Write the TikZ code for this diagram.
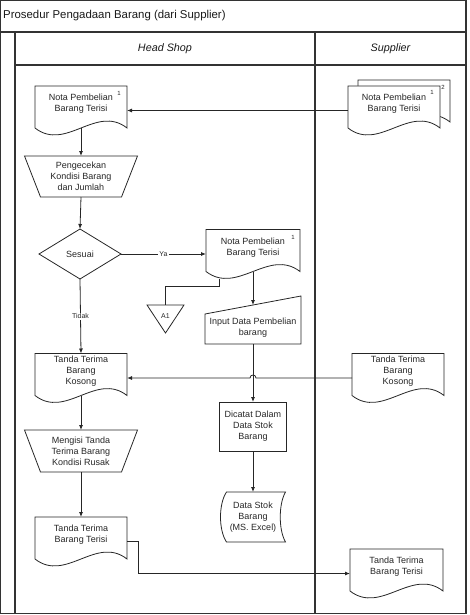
\documentclass[tikz,border=0pt]{standalone}
\usepackage{fontspec}
\setmainfont{Liberation Sans}
\usetikzlibrary{arrows.meta,calc}
\tikzset{
 shp/.style={draw=black!85, line width=0.8pt},
 lane/.style={draw=black!80, line width=1.2pt},
 arr/.style={draw=black!85, line width=0.8pt, -{Latex[length=5pt,width=4pt]}},
 ln/.style={draw=black!85, line width=0.8pt},
 box/.style={rectangle, inner sep=0pt, outer sep=0pt},
 txt/.style={inner sep=0pt, align=center, font=\fontsize{9}{11}\selectfont, text=black!85},
 supnum/.style={inner sep=0pt, font=\fontsize{6}{7}\selectfont, text=black!85},
 lbl/.style={inner sep=1pt, fill=white, font=\fontsize{7}{8}\selectfont, text=black!85},
 hdr/.style={inner sep=0pt, font=\fontsize{10.8}{12}\selectfont\itshape, text=black!90},
}
\newcommand\docshape[2]{%
 \draw[shp, fill=white] (#1.north west) -- (#1.north east) -- ($(#1.south east)+(0,-7)$)
   .. controls +(-#2/3,-24) and +(#2/3,24) .. ($(#1.south west)+(0,-7)$) -- cycle;}
\newcommand\docnode[5]{%
 \node[box, minimum width=#4pt, minimum height=49pt] (#1) at (#2,#3) {};
 \docshape{#1}{#4}
 \node[txt] (#1-t) at ($(#1.center)+(0,-6.5)$) {#5};}
\begin{document}
\begin{tikzpicture}[x=1pt,y=-1pt]
\useasboundingbox (0,0) rectangle (469,615);
% frame and lanes
\draw[lane] (0.6,0.6) rectangle (466,613.5);
\draw[lane] (0.6,32) -- (466,32);
\draw[lane] (15,32) -- (15,613.5);
\draw[lane] (15,65) -- (466,65);
\draw[lane] (315,32) -- (315,613.5);
\node[anchor=west, inner sep=0pt, font=\fontsize{11.4}{13}\selectfont, text=black!90] (title) at (3,16) {Prosedur Pengadaan Barang (dari Supplier)};
\node[hdr] (h1) at (165,49) {Head Shop};
\node[hdr] (h2) at (390.5,49) {Supplier};

% documents
\docnode{nota1}{81}{110.5}{92}{Nota Pembelian\\Barang Terisi}
\node[supnum] (nota1-n) at ($(nota1.north east)+(-8,7)$) {1};

\node[box, minimum width=92pt, minimum height=49pt] (notaSb) at (404,104.5) {};
\docshape{notaSb}{92}
\node[supnum] (notaSb-n) at ($(notaSb.north east)+(-7,7)$) {2};
\docnode{notaS}{394}{110.5}{92}{Nota Pembelian\\Barang Terisi}
\node[supnum] (notaS-n) at ($(notaS.north east)+(-8,6)$) {1};

\docnode{nota2}{253}{254}{94}{Nota Pembelian\\Barang Terisi}
\node[supnum] (nota2-n) at ($(nota2.north east)+(-7,8)$) {1};

\docnode{ttk1}{81}{378}{92}{Tanda Terima\\Barang\\Kosong}
\docnode{ttk2}{398}{378}{92}{Tanda Terima\\Barang\\Kosong}
\docnode{tti1}{81}{541.5}{92}{Tanda Terima\\Barang Terisi}
\docnode{tti2}{396.5}{573.5}{93}{Tanda Terima\\Barang Terisi}

% trapezoids
\node[box, txt, minimum width=113pt, minimum height=41pt] (trap1) at (81,176.5) {Pengecekan\\Kondisi Barang\\dan Jumlah};
\draw[shp] (trap1.north west) -- (trap1.north east) -- ($(trap1.south east)+(-16,0)$) -- ($(trap1.south west)+(16,0)$) -- cycle;
\node[box, txt, minimum width=113pt, minimum height=42pt] (trap2) at (81,451) {Mengisi Tanda\\Terima Barang\\Kondisi Rusak};
\draw[shp] (trap2.north west) -- (trap2.north east) -- ($(trap2.south east)+(-16,0)$) -- ($(trap2.south west)+(16,0)$) -- cycle;

% decision
\node[box, txt, minimum width=82pt, minimum height=50pt] (dec) at (80,254) {Sesuai};
\draw[shp] (dec.north) -- (dec.east) -- (dec.south) -- (dec.west) -- cycle;

% off-page connector
\node[box, minimum width=37pt, minimum height=28pt] (a1) at (165.5,319) {};
\draw[shp] (a1.north west) -- (a1.north east) -- (a1.south) -- cycle;
\node[inner sep=0pt, font=\fontsize{7}{8}\selectfont, text=black!85] (a1-t) at (165.5,316) {A1};

% manual input
\node[box, minimum width=96pt, minimum height=48pt] (input) at (253,320) {};
\draw[shp] (input.south west) -- (input.south east) -- (input.north east) -- ($(input.north west)+(0,18)$) -- cycle;
\node[txt] (input-t) at (253,328) {Input Data Pembelian\\barang};

% process
\node[box, txt, draw=black!85, line width=0.8pt, minimum width=67pt, minimum height=49pt] (dicatat) at (253,426.5) {Dicatat Dalam\\Data Stok\\Barang};

% stored data
\node[box, txt, minimum width=65pt, minimum height=50pt] (ds) at (253,517) {Data Stok\\Barang\\(MS. Excel)};
\draw[shp] (ds.north east) .. controls +(-7,12) and +(-7,-12) .. (ds.south east)
  -- ($(ds.south west)+(6,0)$) .. controls +(-8,-12) and +(-8,12) .. ($(ds.north west)+(6,0)$) -- cycle;

% connectors
\draw[arr] (notaS.west) -- (nota1.east);
\draw[arr] ($(nota1.south)+(0,-7)$) -- (trap1.north);
\draw[arr] (trap1.south) -- (dec.north);
\draw[arr] (dec.east) -- node[lbl] (ya) {Ya} (nota2.west);
\draw[arr] (dec.south) -- node[lbl] (tidak) {Tidak} (ttk1.north);
\draw[ln] ($(nota2.south west)+(13,0)$) -- ++(0,8) -| (a1.north);
\draw[arr] ($(nota2.south)+(0,-7)$) -- ($(input.north)+(0,9)$);
\draw[arr] (input.south) -- (dicatat.north);
\draw[arr] (dicatat.south) -- (ds.north);
\coordinate (hop) at (dicatat.north |- ttk2.west);
\draw[arr] (ttk2.west) -- ($(hop)+(3,0)$) .. controls +(0,-4) and +(0,-4) .. ($(hop)+(-3,0)$) -- (ttk1.east);
\draw[arr] ($(ttk1.south)+(0,-7)$) -- (trap2.north);
\draw[arr] (trap2.south) -- (tti1.north);
\draw[arr] (tti1.east) -- ++(11,0) |- (tti2.west);
\end{tikzpicture}
\end{document}
